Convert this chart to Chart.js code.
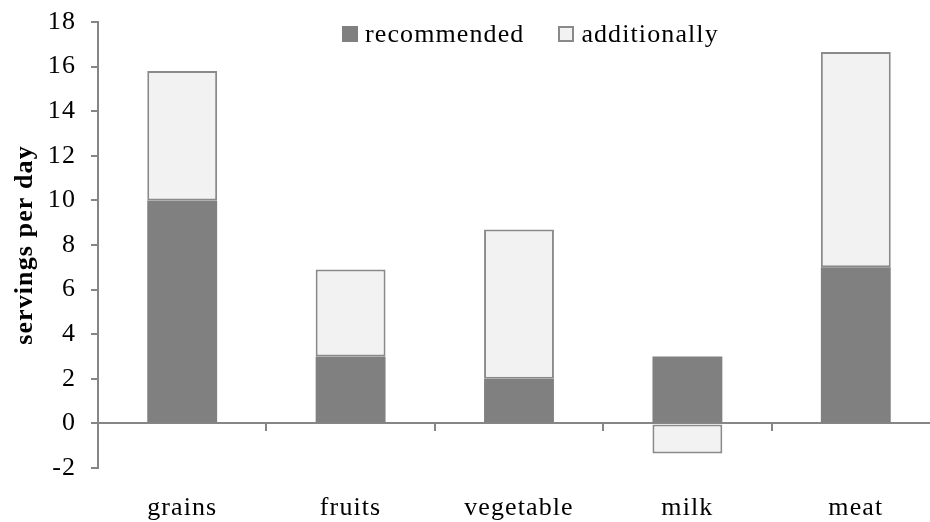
<!DOCTYPE html>
<html>
<head>
<meta charset="utf-8">
<script src="https://cdn.jsdelivr.net/npm/chart.js@4.4.1/dist/chart.umd.min.js"></script>
<style>
  html, body { margin: 0; padding: 0; background: #fff; overflow: hidden; }
  #wrap { position: relative; width: 942px; height: 522px; }
  #legend {
    position: absolute; left: 342px; top: 20px; height: 28px;
    display: flex; align-items: center;
    font-family: "Liberation Serif", "Times New Roman", serif;
    font-size: 26px; letter-spacing: 1.1px; color: #000; line-height: 28px;
  }
  .item { display: flex; align-items: center; margin-right: 34px; white-space: nowrap; }
  .swatch { width: 16px; height: 16px; box-sizing: border-box; margin-right: 7px; }
</style>
</head>
<body>
<div id="wrap">
  <canvas id="chart"></canvas>
  <div id="legend"></div>
</div>
<script>
  const categories = ['grains', 'fruits', 'vegetable', 'milk', 'meat'];
  const recommended = [10, 3, 2, 3, 7];
  const additionally = [5.8, 3.9, 6.7, -1.35, 9.65];
  const seriesNames = ['recommended', 'additionally'];
  const yMin = -2, yMax = 18, yStep = 2;

  const serif = '"Liberation Serif", "Times New Roman", serif';
  const axisGrey = '#868686';
  const darkFill = '#808080';
  const lightFill = '#f2f2f2';
  const lightEdge = '#8a8a8a';

  // Excel-style wide text: canvas letter spacing, reapplied after each resize
  const textSpacing = {
    id: 'textSpacing',
    beforeLayout(chart) { chart.ctx.letterSpacing = '1.1px'; },
    beforeDraw(chart) { chart.ctx.letterSpacing = '1.1px'; }
  };

  const chart = new Chart(document.getElementById('chart'), {
    type: 'bar',
    data: {
      labels: categories,
      datasets: [
        {
          label: seriesNames[0],
          data: recommended,
          backgroundColor: darkFill,
          borderWidth: 0,
          stack: 'servings'
        },
        {
          label: seriesNames[1],
          data: additionally,
          backgroundColor: lightFill,
          borderColor: lightEdge,
          borderWidth: 2,
          borderSkipped: false,
          stack: 'servings'
        }
      ]
    },
    options: {
      responsive: true,
      maintainAspectRatio: false,
      animation: false,
      datasets: { bar: { barPercentage: 0.83, categoryPercentage: 0.5 } },
      layout: { padding: { top: 22, right: 2, left: 0, bottom: 0 } },
      plugins: {
        legend: { display: false },
        tooltip: { enabled: false }
      },
      scales: {
        // axis line through zero with tick marks between categories
        x: {
          type: 'category',
          position: { y: 0 },
          offset: true,
          grid: { offset: true, drawOnChartArea: false, tickLength: 7, color: axisGrey, lineWidth: 2 },
          border: { color: axisGrey, width: 2 },
          ticks: { display: false },
          afterFit(scale) { scale.height = 0; }
        },
        // category names along the bottom
        xl: {
          type: 'category',
          labels: categories,
          position: 'bottom',
          offset: true,
          grid: { display: false },
          border: { display: false },
          ticks: { color: '#000', font: { family: serif, size: 26 }, padding: 17 },
          afterFit(scale) { scale.height = 54; }
        },
        y: {
          min: yMin,
          max: yMax,
          ticks: { stepSize: yStep, color: '#000', font: { family: serif, size: 26 }, padding: 15 },
          grid: { drawOnChartArea: false, tickLength: 7, color: axisGrey, lineWidth: 2 },
          border: { color: axisGrey, width: 2 },
          title: {
            display: true,
            text: 'servings per day',
            color: '#000',
            font: { family: serif, size: 26, weight: 'bold' },
            padding: { top: 10, bottom: 0 }
          },
          afterFit(scale) {
            scale.width = 98;
            scale.paddingTop = 0;
          }
        }
      }
    },
    plugins: [textSpacing]
  });

  // legend row built from the dataset styles
  const legend = document.getElementById('legend');
  chart.data.datasets.forEach(ds => {
    const item = document.createElement('div');
    item.className = 'item';
    const sw = document.createElement('span');
    sw.className = 'swatch';
    sw.style.background = ds.backgroundColor;
    if (ds.borderWidth) sw.style.border = '2px solid ' + ds.borderColor;
    const txt = document.createElement('span');
    txt.textContent = ds.label;
    item.appendChild(sw);
    item.appendChild(txt);
    legend.appendChild(item);
  });
</script>
</body>
</html>
